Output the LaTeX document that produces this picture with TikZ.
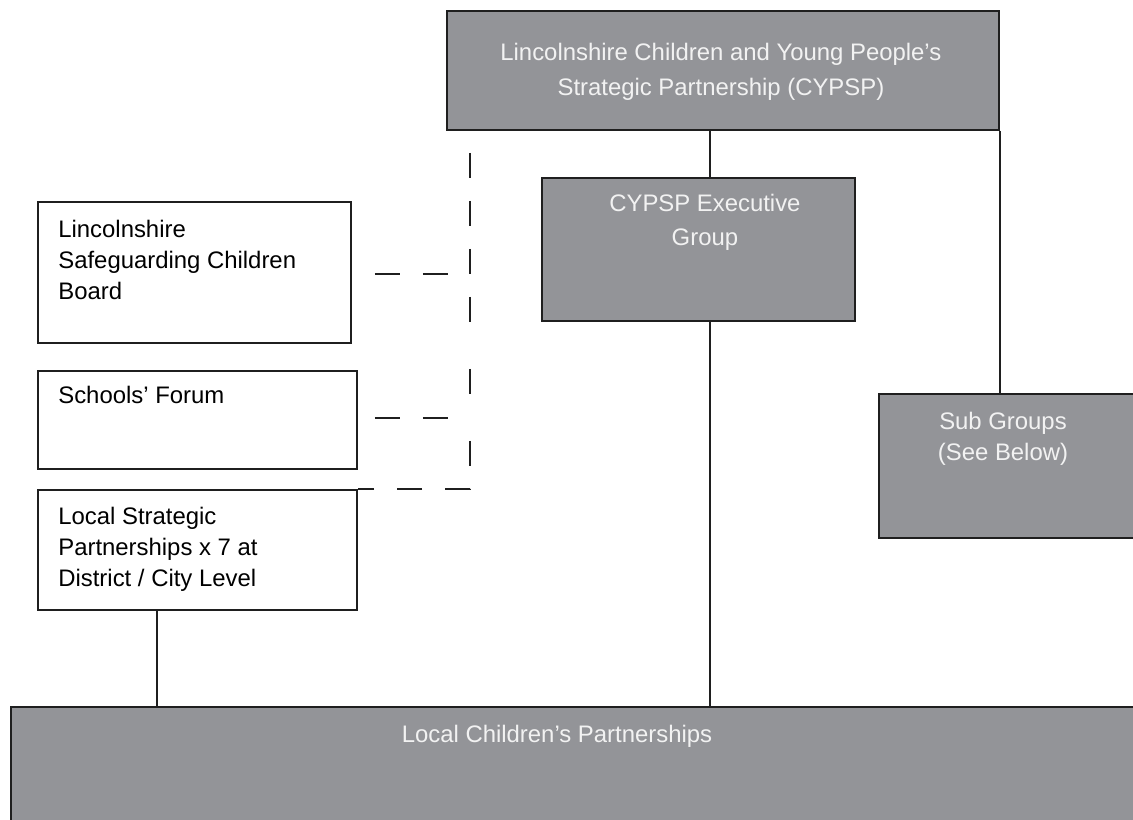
\documentclass[tikz,border=0pt]{standalone}
\usepackage{fontspec}
\setmainfont{Liberation Sans}
\usetikzlibrary{positioning,calc}

\definecolor{boxgray}{RGB}{147,148,152}
\colorlet{box edge}{black!88}
\colorlet{box text}{white!95!black}
\def\boxfont{\fontsize{13.6}{17.6}\selectfont}
\tikzset{
  graybox/.style={draw=box edge, fill=boxgray, line width=1.1pt, inner sep=0pt, anchor=north west},
  whitebox/.style={draw=box edge, fill=white, line width=1.1pt, inner sep=0pt, anchor=north west},
  graytext/.style={text=box text, font=\boxfont, align=center, inner sep=0pt, anchor=north},
  plaintext/.style={text=black, font=\boxfont, align=left, inner sep=0pt, anchor=north west},
  spinedash/.style={dash pattern=on 0.5cm off 0.46cm on 0.5cm off 0.46cm on 0.5cm off 0.46cm
                    on 0.5cm off 0.94cm on 0.5cm off 0.94cm on 0.5cm off 0.46cm}
  }
\tikzstyle{link} = [draw, line width=1.1pt, box edge]
\tikzstyle{dashlink} = [draw, line width=0.8pt, box edge, dash pattern=on 0.5cm off 0.46cm]

\begin{document}
\begin{tikzpicture}[x=0.02cm, y=-0.02cm]
   \useasboundingbox (0,0) rectangle (1133,820);
   \clip (0,0) rectangle (1133,820);

   % boxes, placed by their top left corner
   \node[graybox, minimum width=11.04cm, minimum height=2.38cm] (cypsp) at (446,10) {};
   \node[graybox, minimum width=6.26cm, minimum height=2.86cm] (exec) at (541,177) {};
   \node[whitebox, minimum width=6.26cm, minimum height=2.82cm] (lscb) at (37,201) {};
   \node[whitebox, minimum width=6.38cm, minimum height=1.96cm] (forum) at (37,370) {};
   \node[whitebox, minimum width=6.38cm, minimum height=2.40cm] (lsp) at (37,489) {};
   \node[graybox, minimum width=5.44cm, minimum height=2.88cm] (sub) at (878,393) {};
   \node[graybox, minimum width=22.8cm, minimum height=2.6cm] (lcp) at (10,706) {};

   % texts
   \node[graytext, font=\fontsize{13.6}{19.9}\selectfont] (cypsptext) at ($(cypsp.north)+(-2,32.7)$)
        {Lincolnshire Children and Young People’s\\Strategic Partnership (CYPSP)};
   \node[graytext, font=\fontsize{13.6}{19.4}\selectfont] (exectext) at ($(exec.north)+(6.5,16.7)$)
        {CYPSP Executive\\Group};
   \node[plaintext] (lscbtext) at ($(lscb.north west)+(21,18.7)$)
        {Lincolnshire\\Safeguarding Children\\Board};
   \node[plaintext] (forumtext) at ($(forum.north west)+(21,15.7)$) {Schools’ Forum};
   \node[plaintext] (lsptext) at ($(lsp.north west)+(21,17.7)$)
        {Local Strategic\\Partnerships x 7 at\\District / City Level};
   \node[graytext] (subtext) at ($(sub.north west)+(125,18.7)$) {Sub Groups\\(See Below)};
   \node[graytext] (lcptext) at ($(lcp.north west)+(547,18.7)$) {Local Children’s Partnerships};

   % solid links
   \coordinate (trunk) at (710,0);
   \coordinate (drop) at (157,0);
   \path[link] (trunk |- cypsp.south) -- (trunk |- exec.north);
   \path[link] (trunk |- exec.south) -- (trunk |- lcp.north);
   \path[link] (cypsp.south east) -- (cypsp.south east |- sub.north);
   \path[link] (drop |- lsp.south) -- (drop |- lcp.north);

   % dashed links
   \coordinate (spinetop) at (470,153);
   \coordinate (spinecorner) at (470,489);
   \path[dashlink, spinedash] (spinetop) -- (spinecorner) -- (lsp.north east);
   \path[dashlink] ($(lscb.east)+(23,1.5)$) -- ++(74,0);
   \path[dashlink] ($(forum.east)+(17,-2)$) -- ++(74,0);
\end{tikzpicture}
\end{document}
